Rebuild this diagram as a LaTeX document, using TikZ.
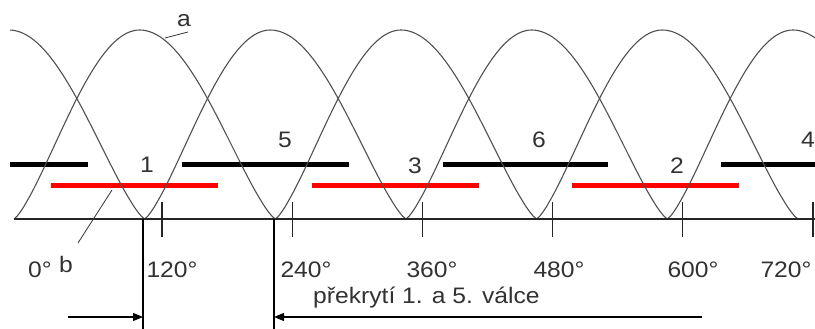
\documentclass[tikz,border=0pt]{standalone}
\usepackage{fontspec}
\setmainfont{Liberation Sans}[FakeStretch=1.1]
\usetikzlibrary{arrows.meta}
\definecolor{lobegray}{RGB}{80, 80, 80}
\definecolor{overlapred}{RGB}{255, 0, 0}
\definecolor{labelgray}{RGB}{50, 50, 50}

\begin{document}
\begin{tikzpicture}[
  x=1pt, y=-1pt,
  lobe/.style={draw=lobegray, line width=1.1pt},
  axisline/.style={draw=black!85, line width=1.1pt},
  tickline/.style={draw=black!85, line width=1.1pt},
  blackbar/.style={draw=black, line width=5pt},
  redbar/.style={draw=overlapred, line width=5pt},
  cyllabel/.style={
    anchor=base, inner sep=0pt,
    font=\fontsize{22.4}{24}\selectfont, text=labelgray
  },
  deglabel/.style={
    anchor=base, inner sep=0pt,
    font=\fontsize{22.4}{24}\selectfont, text=labelgray
  },
  leader/.style={draw=black!80, line width=0.8pt},
  dimline/.style={draw=black, line width=1.1pt},
  dimarrow/.style={
    draw=black, line width=1.1pt,
    -{Triangle[length=10pt, width=8pt]}
  },
]
\useasboundingbox (0,0) rectangle (815,329);

%% ================================================================
%% OVERLAP BARS (black = upper row, red = lower row)
%% ================================================================
\draw[blackbar] (10,164.5)  -- (88,164.5);
\draw[blackbar] (182,164.5) -- (349,164.5);
\draw[blackbar] (443,164.5) -- (608,164.5);
\draw[blackbar] (721,164.5) -- (815,164.5);

\draw[redbar] (51,185)  -- (218,185);
\draw[redbar] (312,185) -- (479,185);
\draw[redbar] (572,185) -- (739,185);

%% ================================================================
%% LIFT CURVES
%% ================================================================
\begin{scope}
\clip (10,0) rectangle (815,219.5);
\foreach \j in {0,...,6}{
  \pgfmathsetmacro{\vl}{14+130.67*(\j-1)}
  \pgfmathsetmacro{\vr}{14+130.67*(\j+1)}
  \pgfmathsetmacro{\pk}{14+130.67*\j-5}
  \draw[lobe]
    plot[domain=0:1, samples=40, variable=\t]
      ({\vl+(\pk-\vl)*\t}, {219-189*pow(max(sin(90*\t),0.0001),1.3)})
    -- plot[domain=0:1, samples=40, variable=\t]
      ({\pk+(\vr-\pk)*\t}, {219-189*pow(max(cos(90*\t),0.0001),1.3)});
}
\end{scope}

%% ================================================================
%% AXIS + TICKS
%% ================================================================
\coordinate (axstart) at (14,219);
\coordinate (axend)   at (815,219);
\draw[axisline] (axstart) -- (axend);

\foreach \k in {1,...,6}{
  \coordinate (tick\k top) at ({31.8+130.2*\k},202);
  \coordinate (tick\k bot) at ({31.8+130.2*\k},237);
  \draw[tickline] (tick\k top) -- (tick\k bot);
}

% Degree labels
\node[deglabel] (deg0)   at (40,277)  {0°};
\node[deglabel] (deg120) at (172,277) {120°};
\node[deglabel] (deg240) at (306,277) {240°};
\node[deglabel] (deg360) at (432,277) {360°};
\node[deglabel] (deg480) at (559,277) {480°};
\node[deglabel] (deg600) at (693,277) {600°};
\node[deglabel] (deg720) at (786,277) {720°};

%% ================================================================
%% CYLINDER NUMBERS
%% ================================================================
\node[cyllabel] (cyl1) at (147,172) {1};
\node[cyllabel] (cyl5) at (285,147) {5};
\node[cyllabel] (cyl3) at (415,173) {3};
\node[cyllabel] (cyl6) at (539,147) {6};
\node[cyllabel] (cyl2) at (677,173) {2};
\node[cyllabel] (cyl4) at (808,147) {4};

%% ================================================================
%% CALLOUTS a, b
%% ================================================================
\node[cyllabel] (lbla) at (184,27)  {a};
\node[cyllabel] (lblb) at (66,272)  {b};

\coordinate (onlobe) at (165,38);
\coordinate (atail)  at (188,32);
\draw[leader] (onlobe) -- (atail);

\coordinate (onbar) at (112,190);
\coordinate (btail) at (78,243);
\draw[leader] (onbar) -- (btail);

%% ================================================================
%% OVERLAP DIMENSION (cyl. 1 and 5)
%% ================================================================
\coordinate (ovAtop) at (143,219);
\coordinate (ovAbot) at (143,329);
\coordinate (ovBtop) at (274,219);
\coordinate (ovBbot) at (274,329);
\draw[dimline] (ovAtop) -- (ovAbot);
\draw[dimline] (ovBtop) -- (ovBbot);

\coordinate (ovAtip)  at (143,317);
\coordinate (ovBtip)  at (274,317);
\coordinate (arrLin)  at (68,317);
\coordinate (arrRin)  at (702,317);
\draw[dimarrow] (arrLin) -- (ovAtip);
\draw[dimarrow] (arrRin) -- (ovBtip);

\node[deglabel, anchor=base west] (ovtext) at (313,303)
  {překrytí 1. a 5. válce};

\end{tikzpicture}
\end{document}
